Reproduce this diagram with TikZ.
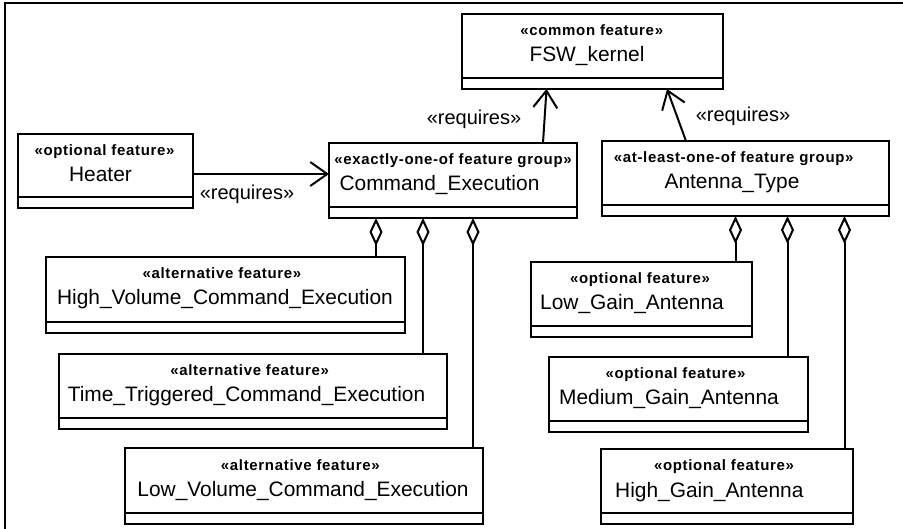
\documentclass[tikz,border=0pt]{standalone}
\usepackage{fontspec}
\setmainfont{Liberation Sans}
\newfontfamily\stereofont[LetterSpace=4.5]{Liberation Sans}
\usetikzlibrary{arrows.meta}

\tikzset{
  feat/.style={draw, line width=2pt, rectangle, inner sep=0pt, outer sep=0pt},
  stereo/.style={font=\stereofont\bfseries\fontsize{15}{17}\selectfont, inner sep=0pt, anchor=base},
  fname/.style={font=\fontsize{20.9}{24}\selectfont, inner sep=0pt, anchor=base},
  lbl/.style={font=\fontsize{20}{24}\selectfont, inner sep=0pt, anchor=base},
  req/.style={line width=2pt, -{Straight Barb[length=17pt,width=24pt,line width=2pt]}},
  agg/.style={line width=2pt, {Diamond[open,length=28pt,width=13pt,line width=2pt]}-},
}

% feature box: name, centre x, top y, width, height
\newcommand{\featbox}[5]{%
  \node[feat, minimum width=#4pt, minimum height=#5pt, anchor=north] (#1) at (#2,#3) {};
  \draw[line width=2pt] ([yshift=11pt]#1.south west) -- ([yshift=11pt]#1.south east);
}

\begin{document}
\begin{tikzpicture}[x=1pt,y=-1pt]
\useasboundingbox (0,0) rectangle (903,529);
\fill[white] (0,0) rectangle (903,529);

% diagram frame (left and top edges)
\draw[line width=2pt] (5,529) -- (5,3) -- (903,3);

% feature boxes
\featbox{FSW}{592.5}{14}{261}{75}
\featbox{Heater}{105.5}{134}{175}{74}
\featbox{CE}{453}{143}{248}{75}
\featbox{Ant}{745.5}{141}{287}{75}
\featbox{HV}{225.5}{257}{359}{76}
\featbox{TT}{253}{354}{388}{75}
\featbox{LV}{304}{448}{358}{76}
\featbox{LGA}{641.5}{262}{221}{75}
\featbox{MGA}{678.5}{357}{259}{75}
\featbox{HGA}{727}{449}{252}{75}

% stereotypes
\node[stereo] (sFSW) at (591.7,36) {«common feature»};
\node[stereo] (sHeater) at (104.5,156) {«optional feature»};
\node[stereo] (sCE) at (453,165) {«exactly-one-of feature group»};
\node[stereo] (sAnt) at (733.7,163) {«at-least-one-of feature group»};
\node[stereo] (sHV) at (222,279) {«alternative feature»};
\node[stereo] (sTT) at (249.7,376) {«alternative feature»};
\node[stereo] (sLV) at (300.3,470) {«alternative feature»};
\node[stereo] (sLGA) at (640,284) {«optional feature»};
\node[stereo] (sMGA) at (675.5,379) {«optional feature»};
\node[stereo] (sHGA) at (724,471) {«optional feature»};

% feature names
\node[fname] (nFSW) at (587,62) {FSW\_kernel};
\node[fname] (nHeater) at (100.5,182) {Heater};
\node[fname] (nCE) at (439.5,191) {Command\_Execution};
\node[fname] (nAnt) at (732,189) {Antenna\_Type};
\node[fname] (nHV) at (225,305) {High\_Volume\_Command\_Execution};
\node[fname] (nTT) at (246.5,402) {Time\_Triggered\_Command\_Execution};
\node[fname] (nLV) at (303,496) {Low\_Volume\_Command\_Execution};
\node[fname] (nLGA) at (632,310) {Low\_Gain\_Antenna};
\node[fname] (nMGA) at (669,405) {Medium\_Gain\_Antenna};
\node[fname] (nHGA) at (709.3,497) {High\_Gain\_Antenna};

% requires dependencies
\draw[req] ([yshift=-3pt]Heater.east) -- ([yshift=6.5pt]CE.west);
\draw[req] ([xshift=90pt]CE.north) -- ([xshift=-46pt]FSW.south);
\draw[req] ([xshift=-59.5pt]Ant.north) -- ([xshift=74.5pt]FSW.south);
\node[lbl] (rHeater) at (247,200) {«requires»};
\node[lbl] (rCE) at (474,124.5) {«requires»};
\node[lbl] (rAnt) at (743,122) {«requires»};

% group membership (aggregation)
\draw[agg] ([xshift=-77pt]CE.south) -- ([xshift=-77pt]CE.south |- HV.north);
\draw[agg] ([xshift=-30pt]CE.south) -- ([xshift=-30pt]CE.south |- TT.north);
\draw[agg] ([xshift=20pt]CE.south) -- ([xshift=20pt]CE.south |- LV.north);
\draw[agg] ([xshift=-10pt]Ant.south) -- ([xshift=-10pt]Ant.south |- LGA.north);
\draw[agg] ([xshift=42pt]Ant.south) -- ([xshift=42pt]Ant.south |- MGA.north);
\draw[agg] ([xshift=99pt]Ant.south) -- ([xshift=99pt]Ant.south |- HGA.north);
\end{tikzpicture}
\end{document}
